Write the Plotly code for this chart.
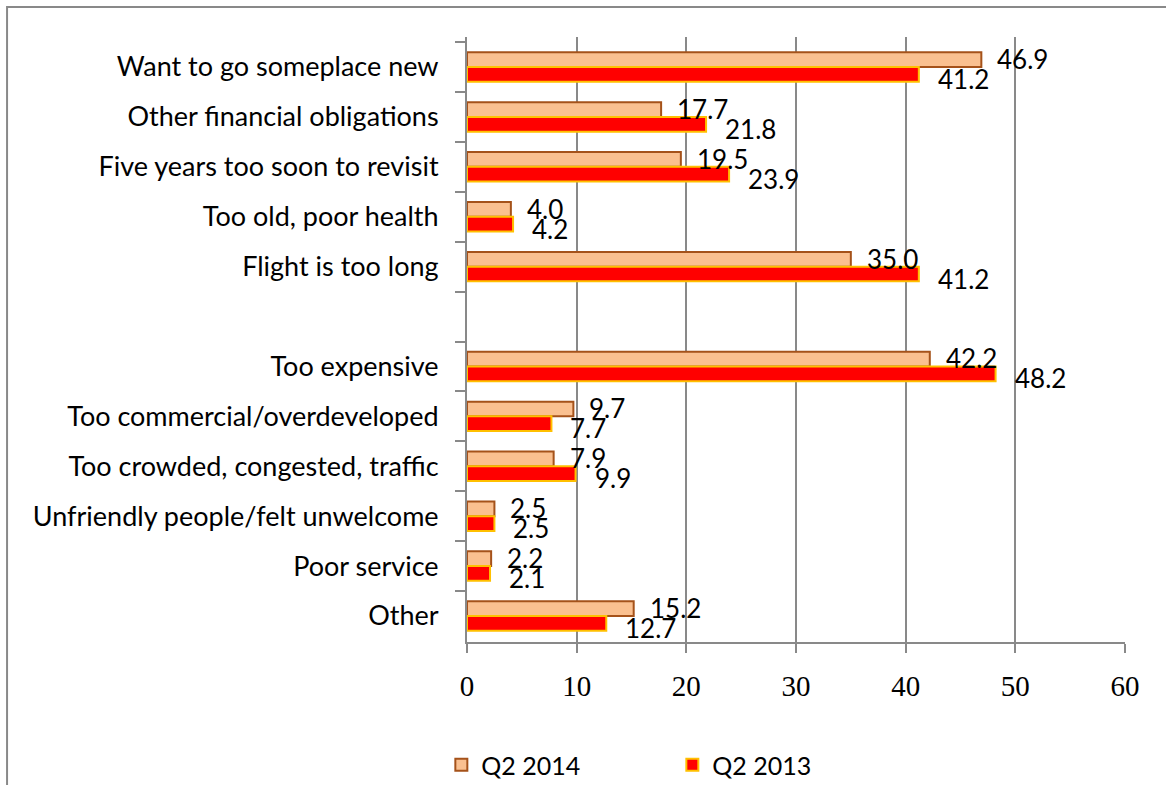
import plotly.graph_objects as go

categories = [
    "Want to go someplace new",
    "Other financial obligations",
    "Five years too soon to revisit",
    "Too old, poor health",
    "Flight is too long",
    " ",
    "Too expensive",
    "Too commercial/overdeveloped",
    "Too crowded, congested, traffic",
    "Unfriendly people/felt unwelcome",
    "Poor service",
    "Other",
]
q2_2014 = [46.9, 17.7, 19.5, 4.0, 35.0, None, 42.2, 9.7, 7.9, 2.5, 2.2, 15.2]
q2_2013 = [41.2, 21.8, 23.9, 4.2, 41.2, None, 48.2, 7.7, 9.9, 2.5, 2.1, 12.7]
x_ticks = [0, 10, 20, 30, 40, 50, 60]

LABEL_FONT = "Lato"
TICK_FONT = "Liberation Serif"

fig = go.Figure()
fig.add_trace(go.Bar(
    name="Q2 2014", y=categories, x=q2_2014, orientation="h",
    marker=dict(color="#FAC090", line=dict(color="#A5521A", width=2)),
))
fig.add_trace(go.Bar(
    name="Q2 2013", y=categories, x=q2_2013, orientation="h",
    marker=dict(color="#FF0000", line=dict(color="#FFC000", width=2)),
))

annotations = []
for cat, v in zip(categories, q2_2014):
    if v is None:
        continue
    annotations.append(dict(x=v, y=cat, xref="x", yref="y", text=f"{v:.1f}",
                            showarrow=False, xanchor="left", yanchor="middle",
                            xshift=14, yshift=8,
                            font=dict(family=LABEL_FONT, size=26, color="black")))
for cat, v in zip(categories, q2_2013):
    if v is None:
        continue
    annotations.append(dict(x=v, y=cat, xref="x", yref="y", text=f"{v:.1f}",
                            showarrow=False, xanchor="left", yanchor="middle",
                            xshift=17, yshift=-12,
                            font=dict(family=LABEL_FONT, size=26, color="black")))

fig.update_layout(
    width=1166, height=785,
    margin=dict(l=467, r=41, t=37, b=143, autoexpand=False),
    paper_bgcolor="white", plot_bgcolor="white",
    barmode="group", bargap=0.41, bargroupgap=0,
    showlegend=True,
    legend=dict(orientation="h", x=-0.039, xanchor="left",
                yref="container", y=1 - 765 / 785, yanchor="middle",
                font=dict(family=LABEL_FONT, size=25, color="black"),
                entrywidth=186, entrywidthmode="pixels", traceorder="normal"),
    annotations=annotations,
    shapes=[dict(type="rect", xref="paper", yref="paper",
                 x0=-0.699, x1=1.12, y0=-0.35, y1=1.0496,
                 line=dict(color="#898989", width=2), fillcolor="rgba(0,0,0,0)",
                 layer="below")],
    xaxis=dict(range=[0, 60], tickvals=x_ticks, ticktext=[str(t) for t in x_ticks],
               showgrid=True, gridcolor="#898989", gridwidth=2,
               showline=True, linecolor="#898989", linewidth=2,
               ticks="outside", ticklen=9, tickwidth=2, tickcolor="#898989",
               zeroline=False, automargin=False, ticklabelstandoff=8,
               tickfont=dict(family=TICK_FONT, size=29, color="black")),
    yaxis=dict(type="category", categoryorder="array", categoryarray=categories,
               autorange="reversed", tickson="boundaries",
               showgrid=False, showline=True, linecolor="#898989", linewidth=2,
               ticks="outside", ticklen=10, tickwidth=2, tickcolor="#898989",
               automargin=False,
               tickfont=dict(family=LABEL_FONT, size=27, color="black"),
               ticklabelstandoff=21),
)

fig.write_html("out.html")
